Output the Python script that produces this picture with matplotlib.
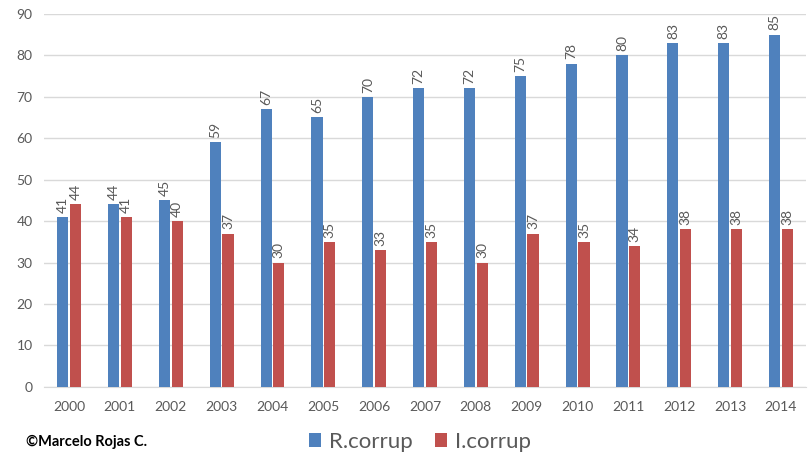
import matplotlib.pyplot as plt
import numpy as np

years = ['2000', '2001', '2002', '2003', '2004', '2005', '2006', '2007',
         '2008', '2009', '2010', '2011', '2012', '2013', '2014']
r_corrup = [41, 44, 45, 59, 67, 65, 70, 72, 72, 75, 78, 80, 83, 83, 85]
i_corrup = [44, 41, 40, 37, 30, 35, 33, 35, 30, 37, 35, 34, 38, 38, 38]

BLUE = '#4F81BD'
RED = '#C0504D'
GRAY = '#595959'

plt.rcParams['font.family'] = ['Lato', 'DejaVu Sans']

fig = plt.figure(figsize=(8.08, 4.59), dpi=100)
ax = fig.add_axes([0.054, 0.157, 0.944, 0.813])

x = np.arange(len(years))
w = 0.22
b1 = ax.bar(x - 0.125, r_corrup, w, color=BLUE, zorder=3)
b2 = ax.bar(x + 0.125, i_corrup, w, color=RED, zorder=3)

for bars in (b1, b2):
    for bar in bars:
        h = bar.get_height()
        ax.annotate(f'{h:.0f}', (bar.get_x() + bar.get_width() / 2, h),
                    xytext=(0, 3), textcoords='offset points',
                    rotation=90, ha='center', va='bottom',
                    fontsize=10, color=GRAY)

ax.set_xlim(-0.5, len(years) - 0.5)
ax.set_ylim(0, 90)
ax.set_yticks(range(0, 91, 10))
ax.set_xticks(x)
ax.set_xticklabels(years)
ax.yaxis.grid(True, color='#D9D9D9', linewidth=1, zorder=0)
ax.tick_params(axis='both', length=0, labelsize=10, labelcolor=GRAY)
ax.tick_params(axis='x', pad=10)
ax.tick_params(axis='y', pad=8)
for side in ('top', 'right', 'left'):
    ax.spines[side].set_visible(False)
ax.spines['bottom'].set_color('#D9D9D9')

leg = fig.legend([b1, b2], ['R.corrup', 'I.corrup'], loc='center',
                 bbox_to_anchor=(0.52, 0.037), ncol=2, frameon=False,
                 fontsize=16, handlelength=0.55, handleheight=0.6,
                 handletextpad=0.35, columnspacing=1.0)
for t in leg.get_texts():
    t.set_color(GRAY)

fig.text(0.032, 0.038, '©Marcelo Rojas C.', fontsize=10.5, fontweight='bold',
         color='black', va='center', ha='left')

fig.savefig('out.png', dpi=100)
